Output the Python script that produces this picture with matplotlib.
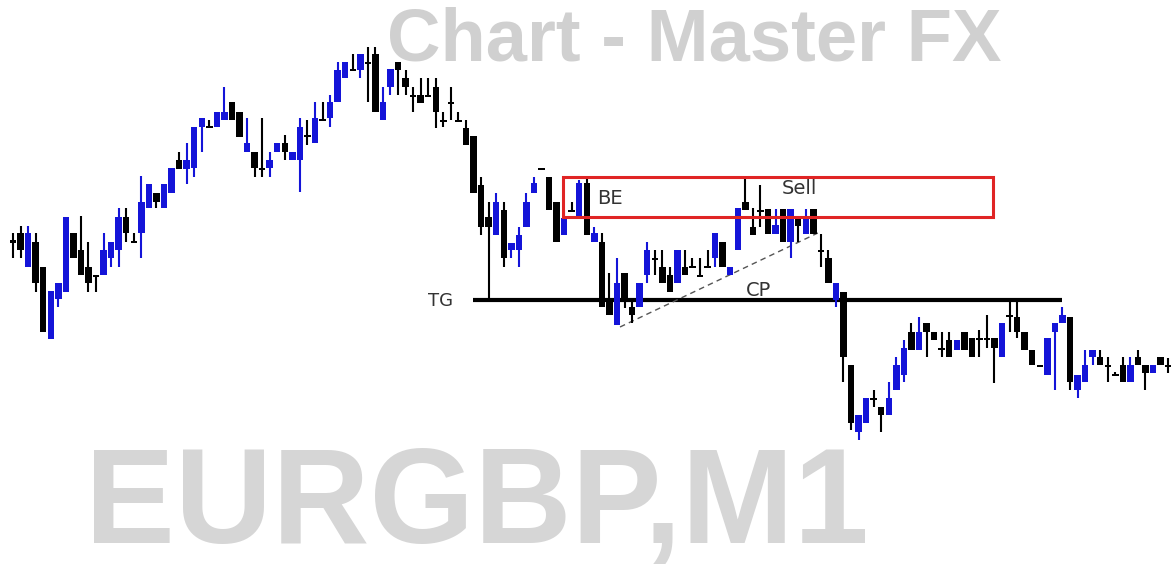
import numpy as np
import matplotlib.pyplot as plt
from matplotlib.patches import Rectangle

# Velas EURGBP M1 (unidades = filas de la imagen, menor valor = precio mas alto)
apertura = [240, 233, 267, 242, 267, 339, 299, 292, 233, 250, 267, 275, 275, 258, 250, 217, 241, 233, 208, 193,
            208, 193, 160, 169, 168, 127, 126, 127, 120, 102, 112, 152, 152, 168, 168, 152, 143, 160, 160, 135,
            143, 119, 118, 102, 78, 69, 70, 62, 54, 120, 87, 62, 78, 95, 95, 95, 87, 120, 102, 120,
            128, 136, 185, 217, 235, 210, 250, 250, 227, 193, 168, 177, 202, 235, 210, 218, 183, 242, 242, 298,
            325, 273, 307, 307, 275, 258, 267, 275, 283, 267, 266, 275, 266, 258, 242, 275, 250, 202, 227, 210,
            209, 234, 209, 242, 218, 234, 209, 250, 258, 300, 292, 365, 432, 423, 398, 407, 415, 390, 375, 332,
            350, 323, 332, 348, 340, 350, 332, 338, 338, 338, 338, 357, 315, 317, 332, 350, 365, 375, 332, 323,
            317, 390, 382, 357, 357, 365, 374, 365, 382, 357, 365, 373, 357, 365]
maximo = [233, 226, 226, 233, 267, 291, 283, 217, 233, 216, 242, 275, 233, 242, 208, 208, 233, 176, 184, 193,
          184, 168, 152, 143, 127, 118, 120, 112, 87, 102, 112, 118, 152, 118, 152, 143, 135, 152, 118, 120,
          102, 102, 95, 62, 62, 54, 54, 47, 47, 87, 69, 62, 70, 87, 78, 78, 78, 112, 87, 112,
          120, 136, 177, 202, 193, 202, 243, 227, 193, 177, 168, 177, 202, 210, 202, 180, 177, 227, 233, 273,
          258, 273, 298, 283, 242, 250, 250, 267, 250, 250, 258, 258, 250, 233, 242, 267, 208, 177, 208, 185,
          209, 209, 209, 209, 218, 209, 209, 234, 250, 283, 292, 365, 415, 398, 390, 407, 382, 357, 340, 323,
          317, 323, 332, 332, 332, 340, 332, 338, 330, 315, 338, 323, 300, 300, 332, 350, 365, 338, 323, 307,
          317, 375, 350, 350, 350, 357, 372, 357, 357, 350, 365, 365, 357, 358]
minimo = [258, 258, 267, 292, 332, 339, 307, 292, 258, 275, 292, 292, 275, 267, 267, 242, 242, 258, 208, 208,
          208, 193, 169, 184, 177, 152, 127, 127, 120, 120, 137, 152, 177, 177, 177, 152, 160, 160, 192, 145,
          143, 120, 127, 102, 78, 70, 78, 102, 112, 120, 95, 95, 95, 112, 103, 95, 128, 127, 120, 120,
          145, 193, 235, 300, 235, 267, 258, 267, 227, 193, 169, 210, 242, 235, 210, 218, 235, 242, 307, 315,
          325, 308, 323, 307, 283, 275, 283, 292, 283, 275, 267, 275, 267, 267, 267, 275, 250, 210, 235, 227,
          234, 234, 242, 258, 242, 234, 234, 267, 283, 307, 382, 430, 440, 423, 407, 432, 415, 390, 382, 350,
          350, 357, 340, 357, 357, 350, 350, 357, 357, 348, 383, 357, 332, 338, 350, 365, 366, 375, 390, 323,
          390, 398, 382, 365, 365, 382, 375, 382, 382, 365, 390, 373, 365, 373]
cierre = [243, 250, 233, 283, 332, 291, 283, 217, 258, 275, 283, 276, 250, 242, 217, 233, 241, 202, 184, 202,
          184, 168, 169, 160, 127, 118, 126, 112, 112, 120, 137, 143, 168, 169, 160, 143, 152, 152, 127, 135,
          118, 120, 102, 70, 62, 69, 54, 62, 112, 102, 69, 70, 87, 95, 103, 95, 112, 120, 102, 120,
          145, 193, 227, 227, 202, 258, 243, 235, 202, 183, 169, 210, 242, 218, 210, 183, 235, 233, 307, 315,
          283, 300, 315, 283, 250, 258, 283, 292, 250, 275, 266, 275, 266, 233, 267, 267, 208, 210, 235, 210,
          234, 225, 242, 209, 226, 217, 234, 250, 283, 283, 357, 423, 415, 398, 398, 415, 398, 365, 348, 350,
          332, 332, 340, 348, 357, 340, 350, 357, 338, 338, 348, 323, 315, 332, 350, 365, 366, 338, 323, 315,
          382, 375, 365, 350, 365, 365, 374, 382, 365, 365, 373, 365, 365, 365]

# Niveles dibujados a mano
nivel_tg = 300
caja_sell = (72.8, 129.8, 177, 217)   # x0, x1, y0, y1
linea_cp = ([80.4, 106.6], [327, 233])
tg_desde, tg_hasta = 60.9, 138.9

fig = plt.figure(figsize=(11.72, 5.72), dpi=100)
ax = fig.add_axes([0, 0, 1, 1])

# Marca de agua
fig.text(0.4066, 0.0507, 'EURGBP,M1', fontsize=97, fontweight='bold',
         family='Liberation Sans', color='#d6d6d6', ha='center', va='baseline', zorder=0)
fig.text(0.5925, 0.928, 'Chart - Master FX', fontsize=53.5, fontweight='bold',
         family='Liberation Sans', color='#d0d0d0', ha='center', va='center', zorder=0)

x = np.arange(len(apertura))
o = np.array(apertura)
c = np.array(cierre)
colores = ['#1414d8' if cc < oo else 'black' for oo, cc in zip(o, c)]

# Mechas y cuerpos
ax.vlines(x, maximo, minimo, colors=colores, linewidth=1.5, zorder=3)
alto = np.maximum(np.abs(c - o), 2)
base = np.minimum(o, c)
ax.bar(x, alto, bottom=base, width=0.85, color=colores, zorder=4)

# Caja de venta, TG y linea CP
x0, x1, y0, y1 = caja_sell
ax.add_patch(Rectangle((x0, y0), x1 - x0, y1 - y0, fill=False, edgecolor='#e02424', linewidth=2.2, zorder=5))
ax.hlines(nivel_tg, tg_desde, tg_hasta, color='black', linewidth=3, zorder=2)
ax.plot(linea_cp[0], linea_cp[1], color='#555555', linestyle=(0, (4, 3)), linewidth=1, zorder=2)

ax.text(79.0, 199, 'BE', fontsize=14, color='#333333', ha='center', va='center')
ax.text(104.2, 188, 'Sell', fontsize=14, color='#333333', ha='center', va='center')
ax.text(98.7, 290, 'CP', fontsize=14, color='#333333', ha='center', va='center')
ax.text(56.6, 301, 'TG', fontsize=13, color='#333333', ha='center', va='center')

ax.set_xlim(-13 / 7.55, (1172 - 13) / 7.55)
ax.set_ylim(572, 0)
ax.axis('off')

plt.savefig('out.png', dpi=100)
